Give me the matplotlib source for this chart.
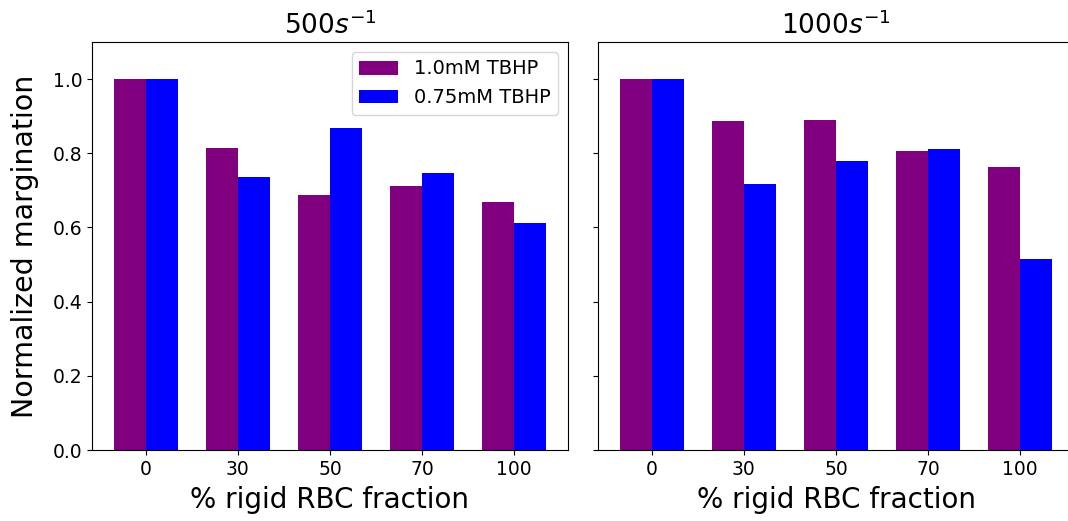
import matplotlib
matplotlib.use("Agg")
import matplotlib.pyplot as plt
import numpy as np

categories = ["0", "30", "50", "70", "100"]
titles = ["$500s^{-1}$", "$1000s^{-1}$"]
series_names = ["1.0mM TBHP", "0.75mM TBHP"]
left_1mM = [1.0, 0.814, 0.687, 0.711, 0.668]
left_075mM = [1.0, 0.736, 0.869, 0.747, 0.612]
right_1mM = [1.0, 0.887, 0.891, 0.806, 0.762]
right_075mM = [1.0, 0.716, 0.778, 0.811, 0.514]
colors = ["purple", "blue"]

fig = plt.figure(figsize=(10.68, 5.21), dpi=100)
W, H = 1068, 521
ax1 = fig.add_axes([92 / W, (H - 450) / H, 476 / W, 408 / H])
ax2 = fig.add_axes([598 / W, (H - 450) / H, 476 / W, 408 / H], sharey=ax1)

x = np.arange(len(categories))
w = 0.35
for ax, a, b, t in [(ax1, left_1mM, left_075mM, titles[0]),
                    (ax2, right_1mM, right_075mM, titles[1])]:
    ax.bar(x - w / 2, a, w, color=colors[0], label=series_names[0])
    ax.bar(x + w / 2, b, w, color=colors[1], label=series_names[1])
    ax.set_xticks(x)
    ax.set_xticklabels(categories)
    ax.tick_params(labelsize=13.5)
    ax.set_xlabel("% rigid RBC fraction", fontsize=20, labelpad=5)
    ax.set_title(t, fontsize=19)

ax1.set_ylim(0, 1.1)
ax1.set_ylabel("Normalized margination", fontsize=20.5, labelpad=10)
plt.setp(ax2.get_yticklabels(), visible=False)
ax1.legend(loc="upper right", fontsize=14)

fig.savefig("out.png", dpi=100)
